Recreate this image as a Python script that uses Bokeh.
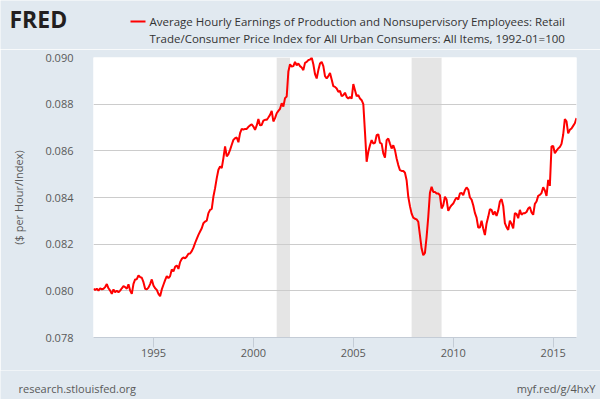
from bokeh.plotting import figure
from bokeh.layouts import column
from bokeh.models import (Label, FixedTicker, PrintfTickFormatter, Range1d,
                          BoxAnnotation)
from bokeh.embed import file_html
from bokeh.resources import INLINE

# Monthly values, Jan 1992 - Mar 2016
start_year = 1992
earnings = [
    0.08009, 0.08004, 0.08009, 0.08001, 0.08011, 0.08006, 0.08009, 0.08016, 0.08029, 0.08011, 0.08001, 0.07987,  # 1992
    0.08006, 0.07994, 0.08001, 0.07994, 0.08001, 0.08011, 0.08020, 0.08016, 0.08009, 0.08028, 0.08001, 0.07987,  # 1993
    0.08030, 0.08049, 0.08050, 0.08066, 0.08059, 0.08056, 0.08037, 0.08009, 0.08006, 0.08014, 0.08029, 0.08049,  # 1994
    0.08023, 0.08011, 0.08004, 0.07987, 0.07977, 0.08006, 0.08026, 0.08046, 0.08063, 0.08054, 0.08063, 0.08092,  # 1995
    0.08083, 0.08103, 0.08109, 0.08094, 0.08123, 0.08137, 0.08143, 0.08139, 0.08147, 0.08159, 0.08160, 0.08170,  # 1996
    0.08185, 0.08205, 0.08223, 0.08240, 0.08254, 0.08268, 0.08290, 0.08297, 0.08301, 0.08333, 0.08347, 0.08351,  # 1997
    0.08404, 0.08440, 0.08483, 0.08519, 0.08533, 0.08526, 0.08569, 0.08619, 0.08576, 0.08586, 0.08604, 0.08626,  # 1998
    0.08647, 0.08654, 0.08657, 0.08637, 0.08676, 0.08694, 0.08691, 0.08694, 0.08694, 0.08703, 0.08709, 0.08714,  # 1999
    0.08704, 0.08690, 0.08709, 0.08736, 0.08709, 0.08711, 0.08729, 0.08733, 0.08733, 0.08743, 0.08754, 0.08771,  # 2000
    0.08726, 0.08740, 0.08761, 0.08771, 0.08780, 0.08804, 0.08790, 0.08826, 0.08833, 0.08940, 0.08971, 0.08961,  # 2001
    0.08963, 0.08981, 0.08967, 0.08974, 0.08963, 0.08957, 0.08946, 0.08977, 0.08981, 0.08989, 0.08991, 0.09000,  # 2002
    0.08971, 0.08929, 0.08910, 0.08946, 0.08974, 0.08981, 0.08963, 0.08920, 0.08910, 0.08920, 0.08934, 0.08906,  # 2003
    0.08877, 0.08874, 0.08867, 0.08853, 0.08857, 0.08834, 0.08839, 0.08849, 0.08831, 0.08824, 0.08831, 0.08824,  # 2004
    0.08886, 0.08860, 0.08834, 0.08839, 0.08824, 0.08817, 0.08800, 0.08680, 0.08553, 0.08596, 0.08624, 0.08646,  # 2005
    0.08631, 0.08634, 0.08667, 0.08671, 0.08634, 0.08631, 0.08589, 0.08571, 0.08646, 0.08653, 0.08631, 0.08610,  # 2006
    0.08624, 0.08603, 0.08567, 0.08539, 0.08517, 0.08514, 0.08514, 0.08506, 0.08474, 0.08403, 0.08363, 0.08331,  # 2007
    0.08314, 0.08309, 0.08306, 0.08296, 0.08239, 0.08181, 0.08153, 0.08163, 0.08231, 0.08317, 0.08420, 0.08446,  # 2008
    0.08424, 0.08424, 0.08417, 0.08417, 0.08410, 0.08353, 0.08367, 0.08403, 0.08391, 0.08343, 0.08357, 0.08367,  # 2009
    0.08374, 0.08389, 0.08400, 0.08391, 0.08417, 0.08420, 0.08410, 0.08431, 0.08443, 0.08434, 0.08400, 0.08391,  # 2010
    0.08367, 0.08334, 0.08314, 0.08271, 0.08271, 0.08300, 0.08267, 0.08239, 0.08289, 0.08317, 0.08350, 0.08347,  # 2011
    0.08326, 0.08340, 0.08321, 0.08344, 0.08383, 0.08393, 0.08364, 0.08290, 0.08273, 0.08261, 0.08301, 0.08287,  # 2012
    0.08268, 0.08333, 0.08330, 0.08311, 0.08347, 0.08326, 0.08333, 0.08333, 0.08338, 0.08353, 0.08359, 0.08336,  # 2013
    0.08326, 0.08373, 0.08383, 0.08407, 0.08411, 0.08419, 0.08444, 0.08430, 0.08407, 0.08476, 0.08450, 0.08619,  # 2014
    0.08621, 0.08590, 0.08601, 0.08610, 0.08616, 0.08630, 0.08669, 0.08736, 0.08726, 0.08675, 0.08690, 0.08696,  # 2015
    0.08707, 0.08718, 0.08740,                                                                                    # 2016
]
months = [start_year + i / 12 for i in range(len(earnings))]

recession_start = [2001 + 2 / 12, 2007 + 11 / 12]
recession_end = [2001 + 10 / 12, 2009 + 5 / 12]

x_ticks = [1995, 2000, 2005, 2010, 2015]
y_ticks = [0.078, 0.080, 0.082, 0.084, 0.086, 0.088, 0.090]

title_lines = [
    "Average Hourly Earnings of Production and Nonsupervisory Employees: Retail",
    "Trade/Consumer Price Index for All Urban Consumers: All Items, 1992-01=100",
]
y_label = "($ per Hour/Index)"
source_text = "research.stlouisfed.org"
link_text = "myf.red/g/4hxY"

FONT = "Open Sans"
BG = "#e1e9f0"
GREY_TEXT = "#595959"

W = 600
HEAD_H = 49          # page rows 0..49
FOOT_H = 29          # page rows 370..399
MAIN_H = 399 - HEAD_H - FOOT_H
FL, FR, FT, FB = 93, 576, 57, 337   # plot frame edges in page pixels


def no_align(f):
    try:
        f.frame_align = False
    except Exception:
        pass


def panel(height):
    f = figure(width=W, height=height, output_backend="svg", toolbar_location=None,
               x_range=Range1d(0, 1), y_range=Range1d(0, 1),
               x_axis_location=None, y_axis_location=None, min_border=0)
    f.grid.visible = False
    f.background_fill_color = BG
    f.border_fill_color = BG
    f.outline_line_color = None
    no_align(f)
    return f


def lab(f, page_top, h, px, py, text, **kw):
    # px, py: page pixels from top-left; screen units measured from frame bottom-left
    f.add_layout(Label(x=px, y=page_top + h - py, x_units="screen", y_units="screen",
                       text=text, text_font=FONT, **kw))


# ---------------- header ----------------
head = panel(HEAD_H)
lab(head, 0, HEAD_H, 9, 18.5, "FRED", text_font_size="23px", text_font_style="bold",
    text_color="#231f20", text_baseline="middle")
head.add_layout(BoxAnnotation(left=130, right=145, bottom=HEAD_H - 22, top=HEAD_H - 20,
                              left_units="screen", right_units="screen",
                              top_units="screen", bottom_units="screen",
                              fill_color="#ff0000", fill_alpha=1.0, line_color=None))
lab(head, 0, HEAD_H, 149, 21, title_lines[0], text_font_size="11.5px",
    text_color="#333333", text_baseline="middle")
lab(head, 0, HEAD_H, 149, 38, title_lines[1], text_font_size="11.5px",
    text_color="#333333", text_baseline="middle")

# ---------------- main chart ----------------
p = figure(width=W, height=MAIN_H, output_backend="svg", toolbar_location=None,
           x_range=Range1d(months[0], months[-1]),
           y_range=Range1d(y_ticks[0], y_ticks[-1]),
           min_border_left=FL, min_border_right=W - FR,
           min_border_top=FT - HEAD_H, min_border_bottom=HEAD_H + MAIN_H - FB)
no_align(p)
p.background_fill_color = "white"
p.border_fill_color = BG
p.outline_line_color = None

for s, e in zip(recession_start, recession_end):
    p.add_layout(BoxAnnotation(left=s, right=e, fill_color="#e5e5e5",
                               fill_alpha=1.0, line_color=None, level="image"))

p.line(months, earnings, line_color="#ff0000", line_width=2)

p.xaxis.ticker = FixedTicker(ticks=x_ticks)
p.xaxis.formatter = PrintfTickFormatter(format="%d")
p.xaxis.axis_line_color = "#c4ccd6"
p.xaxis.major_tick_line_color = "#c4ccd6"
p.xaxis.major_tick_out = 10
p.xaxis.major_tick_in = 0
p.xaxis.minor_tick_out = 0
p.xaxis.minor_tick_in = 0
p.xaxis.major_label_standoff = 1
p.xaxis.major_label_text_font = FONT
p.xaxis.major_label_text_font_size = "11px"
p.xaxis.major_label_text_color = GREY_TEXT

p.yaxis.ticker = FixedTicker(ticks=y_ticks)
p.yaxis.formatter = PrintfTickFormatter(format="%.3f")
p.yaxis.axis_line_color = None
p.yaxis.major_tick_out = 0
p.yaxis.major_tick_in = 0
p.yaxis.minor_tick_out = 0
p.yaxis.minor_tick_in = 0
p.yaxis.major_label_standoff = 20
p.yaxis.major_label_text_font = FONT
p.yaxis.major_label_text_font_size = "11px"
p.yaxis.major_label_text_color = GREY_TEXT
p.yaxis.axis_label = y_label
p.yaxis.axis_label_standoff = 16
p.yaxis.axis_label_text_font = FONT
p.yaxis.axis_label_text_font_size = "11px"
p.yaxis.axis_label_text_font_style = "normal"
p.yaxis.axis_label_text_color = GREY_TEXT

p.xgrid.visible = False
p.ygrid.grid_line_color = "#cccccc"
p.ygrid.grid_line_width = 1

# ---------------- footer ----------------
foot_top = HEAD_H + MAIN_H
foot = panel(FOOT_H)
lab(foot, foot_top, FOOT_H, 18, 388, source_text, text_font_size="11px",
    text_color=GREY_TEXT, text_baseline="middle")
lab(foot, foot_top, FOOT_H, 595, 388, link_text, text_font_size="11px",
    text_color=GREY_TEXT, text_baseline="middle", text_align="right")

layout = column(head, p, foot, spacing=0)
open("out.html", "w").write(file_html(layout, INLINE))
